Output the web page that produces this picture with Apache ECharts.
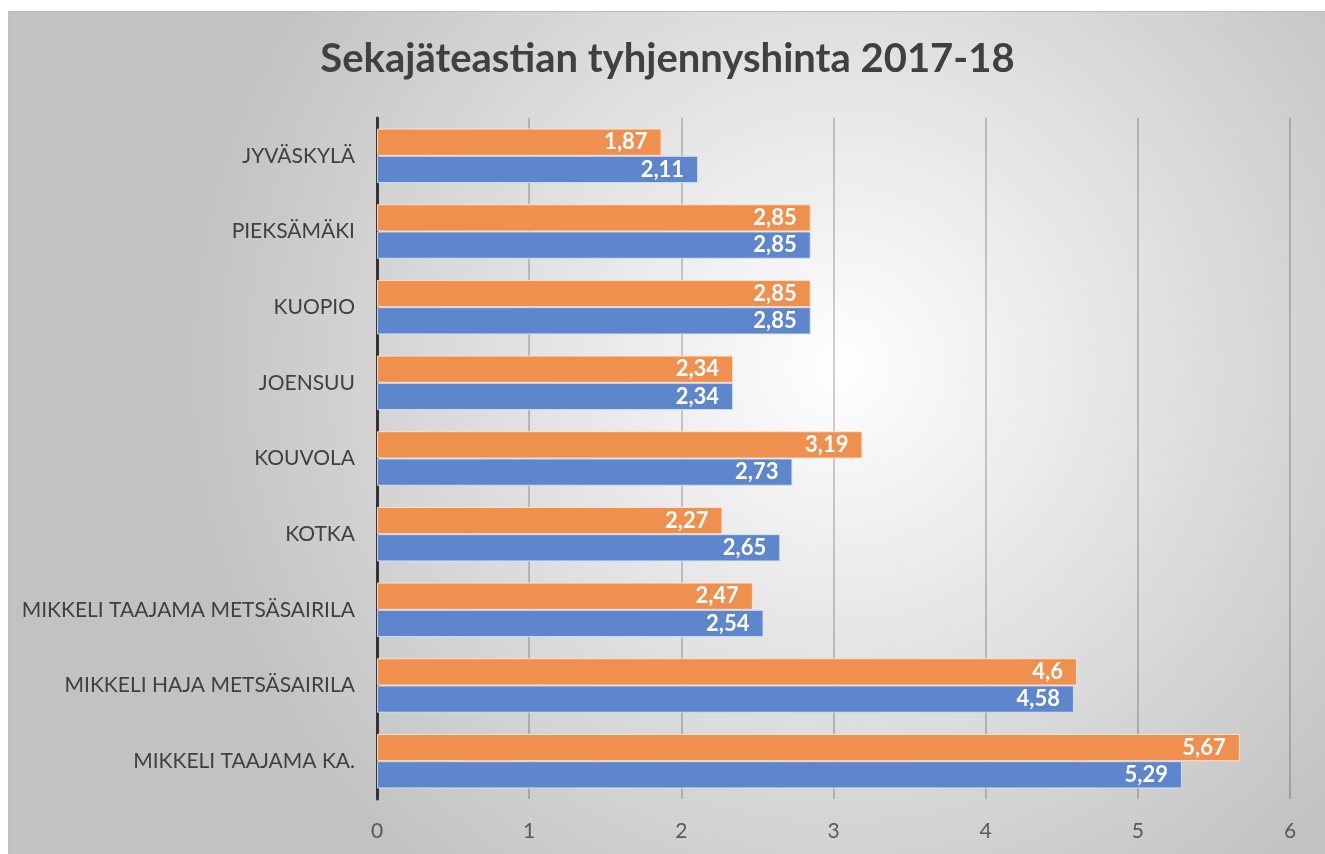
<!DOCTYPE html>
<html>
<head>
<meta charset="utf-8">
<script src="https://cdn.jsdelivr.net/npm/echarts@6/dist/echarts.min.js"></script>
<style>
  html, body { margin: 0; padding: 0; background: #fff; }
  #main {
    position: absolute; left: 8px; top: 11px;
    width: 1317px; height: 843px;
    border-left: 1px solid #bdbdbd; border-top: 1px solid #bdbdbd;
  }
</style>
</head>
<body>
<div id="main"></div>
<script>
// data
const categories = ['JYVÄSKYLÄ', 'PIEKSÄMÄKI', 'KUOPIO', 'JOENSUU', 'KOUVOLA', 'KOTKA',
  'MIKKELI TAAJAMA METSÄSAIRILA', 'MIKKELI HAJA METSÄSAIRILA', 'MIKKELI TAAJAMA KA.'];
const orangeValues = [1.87, 2.85, 2.85, 2.34, 3.19, 2.27, 2.47, 4.6, 5.67];
const blueValues = [2.11, 2.85, 2.85, 2.34, 2.73, 2.65, 2.54, 4.58, 5.29];
const xTicks = [0, 1, 2, 3, 4, 5, 6];

const myChart = echarts.init(document.getElementById('main'));

const fontFam = 'Lato, "Open Sans", sans-serif';
const label = {
  show: true,
  position: 'insideRight',
  distance: 14,
  color: '#fff',
  fontWeight: 'bold',
  fontSize: 22,
  fontFamily: fontFam,
  formatter: p => String(p.value).replace('.', ',')
};

const option = {
  backgroundColor: {
    type: 'radial', x: 0.63, y: 0.42, r: 0.78,
    colorStops: [{ offset: 0, color: '#ffffff' }, { offset: 1, color: '#c2c2c2' }]
  },
  title: {
    text: 'Sekajäteastian tyhjennyshinta 2017-18',
    left: 'center', top: 22,
    textStyle: { fontSize: 40, fontWeight: 'bold', color: '#404040', fontFamily: fontFam }
  },
  grid: { left: 368, right: 36, top: 106, bottom: 56 },
  xAxis: {
    type: 'value',
    min: xTicks[0], max: xTicks[xTicks.length - 1], interval: 1,
    axisLine: { show: false },
    axisTick: { show: false },
    axisLabel: { color: '#595959', fontSize: 21, fontFamily: fontFam, margin: 22 },
    splitLine: { lineStyle: { color: 'rgba(0,0,0,0.25)', width: 1.5 } }
  },
  yAxis: {
    type: 'category',
    data: categories,
    inverse: true,
    axisLine: { lineStyle: { color: '#333', width: 3 } },
    axisTick: { show: false },
    axisLabel: { color: '#404040', fontSize: 21, fontFamily: fontFam, margin: 22 }
  },
  series: [
    {
      name: '2017', type: 'bar', data: orangeValues,
      barGap: '0%', barCategoryGap: '28%',
      itemStyle: { color: '#EF904F', borderColor: 'rgba(255,230,210,0.9)', borderWidth: 1 },
      label: label
    },
    {
      name: '2018', type: 'bar', data: blueValues,
      barGap: '0%', barCategoryGap: '28%',
      itemStyle: { color: '#5E86CC', borderColor: 'rgba(215,225,245,0.9)', borderWidth: 1 },
      label: label
    }
  ]
};

option && myChart.setOption(option);
</script>
</body>
</html>
